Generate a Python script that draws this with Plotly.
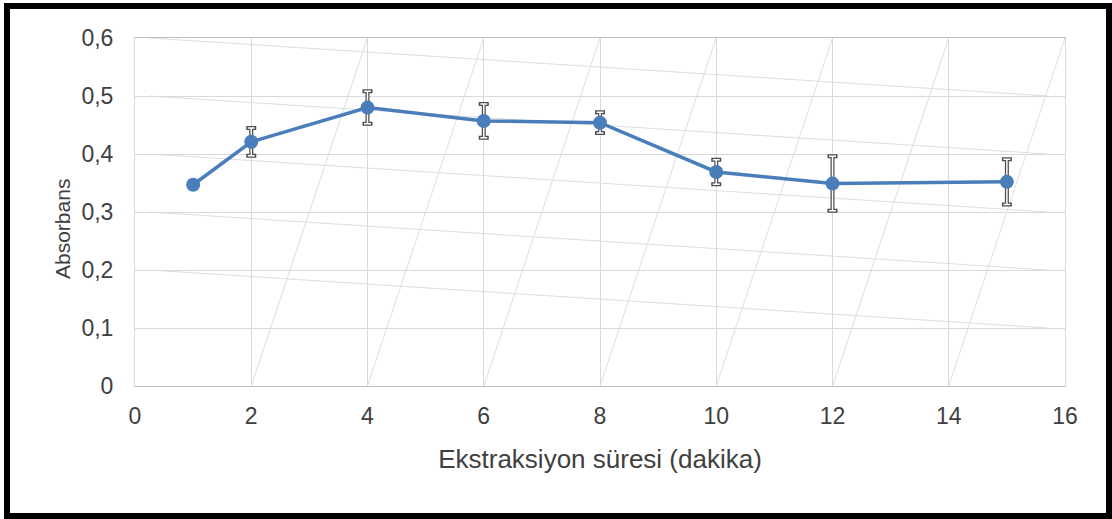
import plotly.graph_objects as go

# Extraction time (minutes) vs. absorbance, with standard deviations
time_min = [1, 2, 4, 6, 8, 10, 12, 15]
absorbance = [0.347, 0.421, 0.480, 0.457, 0.454, 0.369, 0.349, 0.352]
abs_sd = [0.005, 0.024, 0.028, 0.029, 0.018, 0.021, 0.047, 0.039]

x_ticks = [0, 2, 4, 6, 8, 10, 12, 14, 16]
y_ticks = [0, 0.1, 0.2, 0.3, 0.4, 0.5, 0.6]
y_tick_text = ["0", "0,1", "0,2", "0,3", "0,4", "0,5", "0,6"]

W, H = 1112, 519
ML, MR, MT, MB = 135, 47, 38, 133
PW, PH = W - ML - MR, H - MT - MB

BLUE = "#4a7ebb"
GRID = "#d9d9d9"
TEXT = "#404040"
FONT = "Liberation Sans, Arial, sans-serif"

fig = go.Figure()

# error bars drawn as an outlined "I": dark wide bar, white core on top
fig.add_trace(go.Scatter(
    x=time_min, y=absorbance, mode="markers",
    marker=dict(size=1, opacity=0),
    error_y=dict(type="data", array=abs_sd, visible=True,
                 color="#4d4d4d", thickness=4, width=5),
    hoverinfo="skip", showlegend=False,
))
fig.add_trace(go.Scatter(
    x=time_min, y=absorbance, mode="markers",
    marker=dict(size=1, opacity=0),
    error_y=dict(type="data", array=abs_sd, visible=True,
                 color="#ffffff", thickness=1.5, width=3.5),
    hoverinfo="skip", showlegend=False,
))
fig.add_trace(go.Scatter(
    x=time_min, y=absorbance, mode="lines+markers",
    line=dict(color=BLUE, width=3.5),
    marker=dict(color=BLUE, size=14),
    showlegend=False,
))

shapes = []
# faint sheared copies of the grid
for i in range(1, len(x_ticks) - 1):
    shapes.append(dict(type="line", xref="x", yref="y",
                       x0=x_ticks[i], y0=y_ticks[0],
                       x1=x_ticks[i + 1], y1=y_ticks[-1],
                       line=dict(color="#dedede", width=1), layer="below"))
for j in range(len(y_ticks) - 1, 1, -1):
    shapes.append(dict(type="line", xref="x", yref="y",
                       x0=0.25, y0=y_ticks[j],
                       x1=15.7, y1=y_ticks[j - 1],
                       line=dict(color="#dedede", width=1), layer="below"))
# black frame around the whole chart
shapes.append(dict(type="rect", xref="paper", yref="paper",
                   x0=(7 - ML) / PW, x1=(1109 - ML) / PW,
                   y0=(MT + PH - 516) / PH, y1=(MT + PH - 6) / PH,
                   line=dict(color="black", width=6), fillcolor="rgba(0,0,0,0)"))

fig.update_layout(
    width=W, height=H,
    margin=dict(l=ML, r=MR, t=MT, b=MB),
    paper_bgcolor="white", plot_bgcolor="white",
    font=dict(family=FONT, color=TEXT, size=22),
    shapes=shapes,
    annotations=[dict(
        text="Absorbans", textangle=-90, showarrow=False,
        xref="paper", yref="paper",
        x=(62 - ML) / PW, y=(MT + PH - 229) / PH,
        xanchor="center", yanchor="middle",
        font=dict(size=21, color=TEXT),
    )],
    xaxis=dict(
        range=[0, 16], tickvals=x_ticks, showgrid=True, gridcolor=GRID,
        gridwidth=1, zeroline=False, showline=True, linecolor="#bfbfbf",
        linewidth=1, mirror=True, ticks="", ticklabelstandoff=9,
        tickfont=dict(size=23, color=TEXT),
        title=dict(text="Ekstraksiyon süresi (dakika)", standoff=22,
                   font=dict(size=26, color=TEXT)),
    ),
    yaxis=dict(
        range=[0, 0.6], tickvals=y_ticks, ticktext=y_tick_text, showgrid=True,
        gridcolor=GRID, gridwidth=1, zeroline=False, showline=True,
        linecolor=GRID, linewidth=1, mirror=True, ticks="",
        ticklabelstandoff=16, tickfont=dict(size=23, color=TEXT),
    ),
)

fig.write_html("out.html")
